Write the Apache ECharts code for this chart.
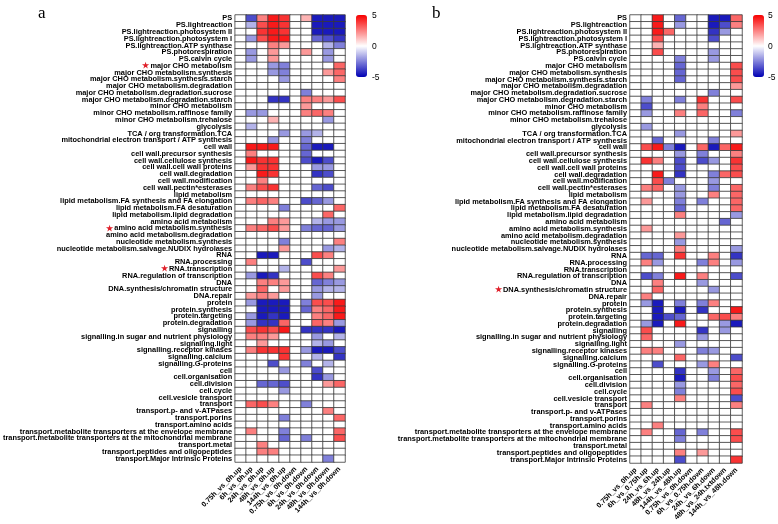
<!DOCTYPE html>
<html><head><meta charset="utf-8">
<script src="https://cdn.jsdelivr.net/npm/echarts@6/dist/echarts.min.js"></script>
<style>html,body{margin:0;padding:0;background:#fff}#c{width:778px;height:524px}</style>
</head><body><div id="c"></div>
<script>
const rowNames = ["PS","PS.lightreaction","PS.lightreaction.photosystem II","PS.lightreaction.photosystem I","PS.lightreaction.ATP synthase","PS.photorespiration","PS.calvin cycle","major CHO metabolism","major CHO metabolism.synthesis","major CHO metabolism.synthesis.starch","major CHO metabolism.degradation","major CHO metabolism.degradation.sucrose","major CHO metabolism.degradation.starch","minor CHO metabolism","minor CHO metabolism.raffinose family","minor CHO metabolism.trehalose","glycolysis","TCA / org transformation.TCA","mitochondrial electron transport / ATP synthesis","cell wall","cell wall.precursor synthesis","cell wall.cellulose synthesis","cell wall.cell wall proteins","cell wall.degradation","cell wall.modification","cell wall.pectin*esterases","lipid metabolism","lipid metabolism.FA synthesis and FA elongation","lipid metabolism.FA desaturation","lipid metabolism.lipid degradation","amino acid metabolism","amino acid metabolism.synthesis","amino acid metabolism.degradation","nucleotide metabolism.synthesis","nucleotide metabolism.salvage.NUDIX hydrolases","RNA","RNA.processing","RNA.transcription","RNA.regulation of transcription","DNA","DNA.synthesis/chromatin structure","DNA.repair","protein","protein.synthesis","protein.targeting","protein.degradation","signalling","signalling.in sugar and nutrient physiology","signalling.light","signalling.receptor kinases","signalling.calcium","signalling.G-proteins","cell","cell.organisation","cell.division","cell.cycle","cell.vesicle transport","transport","transport.p- and v-ATPases","transport.porins","transport.amino acids","transport.metabolite transporters at the envelope membrane","transport.metabolite transporters at the mitochondrial membrane","transport.metal","transport.peptides and oligopeptides","transport.Major Intrinsic Proteins"];
const starredA = ["major CHO metabolism","amino acid metabolism.synthesis","RNA.transcription"];
const starredB = ["DNA.synthesis/chromatin structure"];
const colsA = ["0.75h_vs_0h.up","6h_vs_0h.up","24h_vs_0h.up","48h_vs_0h.up","144h_vs_0h.up","0.75h_vs_0h.down","6h_vs_0h.down","24h_vs_0h.down","48h_vs_0h.down","144h_vs_0h.down"];
const colsB = ["0.75h_vs_0h.up","6h_vs_0.75h.up","24h_vs_6h.up","48h_vs_24h.up","144h_vs_48h.up","0.75h_vs_0h.down","6h_vs_0.75h.down","24h_vs_6h.down","48h_vs_24h.txtdown","144h_vs_48h.down"];
const scaleTicks = ["5","0","-5"];

const valuesA = [
[0,-3.5,2.5,4.5,4,0,1.5,-4.5,-4.5,-4.5],
[0,-1.5,3.5,4.5,4,0,0,-4.5,-4.5,-4.5],
[0,0,4,4.5,4,0,0,-4.5,-4.5,-4.5],
[0,-2,3.5,4.5,4.5,0,0,-3,-3.5,-4],
[0,0,0,2.5,2,0,0,0,-1.5,-2.5],
[0,-2,0,2,0,0,2,0,-2,0],
[0,-2,0,2,0,0,0,0,-2,0],
[0,0,0,-2,-2.5,0,0,0,0,3],
[0,0,0,-2,-2.5,0,0,0,2,3],
[0,0,0,0,-2,0,0,0,0,2.5],
[0,0,0,0,0,0,0,0,0,0],
[0,0,0,0,0,0,-2.5,0,0,0],
[0,0,0,-4,-4,0,2.5,2.5,2,3.5],
[0,0,0,0,0,0,2,0,0,0],
[0,-2,-2,0,0,0,2.5,3,2.5,0],
[0,0,0,1.5,0,0,0,0,-2,0],
[0,-1.5,0,0,0,0,0,0,0,0],
[0,0,0,0,-2,0,-2,-1.5,0,0],
[0,0,0,-2,0,0,-2.5,0,0,0],
[0,4.5,4.5,4.5,0,0,-3,-4.5,-4.5,0],
[0,2.5,0,0,0,0,-3,0,0,0],
[0,4.5,4,4,0,0,-3.5,-4.5,-3.5,0],
[0,2,4,4,0,0,0,-2,-2,0],
[0,0,4.5,4,0,0,0,-4,-3.5,0],
[0,0,2.5,0,0,0,0,0,0,0],
[0,2.5,3.5,4,0,0,0,-3,-3.5,0],
[0,0,0,0,0,0,0,0,0,0],
[0,2.5,3,2.5,0,0,-3.5,-3,-2,0],
[0,0,0,0,-2.5,0,0,0,0,3],
[0,0,0,0,0,0,0,0,3,0],
[0,0,0,2.5,2,0,0,-1.5,-2,-2],
[0,2.5,3,3.5,2,0,-2.5,-3,-3,-2],
[0,0,0,0,0,0,0,0,0,0],
[0,0,0,0,-2.5,0,0,0,0,2.5],
[0,0,0,0,2,0,0,0,-2,-1.5],
[0,0,-4.5,-4.5,0,0,0,3.5,2.5,0],
[0,2.5,0,0,0,0,-3.5,0,0,0],
[0,0,0,0,-1.5,0,0,0,0,2],
[0,-2,-4.5,-4,0,0,0,3.5,2.5,0],
[0,0,2.5,2.5,2,0,0,-3,-2.5,-2],
[0,0,3,0,2,0,0,-2,-1.5,-1.5],
[0,2,2.5,2,0,0,0,-2,0,0],
[0,-2,-4.5,-4.5,-4.5,0,-2.5,3.5,3.5,4.5],
[0,0,-4.5,-4.5,-4.5,0,-3,2.5,3,4.5],
[0,-2,-4.5,-4,-4.5,0,0,2.5,3,4.5],
[0,-2,-4,-4,3,0,0,3,2.5,-2],
[0,3.5,4,3.5,4.5,0,-4,-4,-4,-4.5],
[0,2.5,2.5,2,0,0,0,-2,0,-1.5],
[0,0,2,0,0,0,0,-1.5,-2,0],
[0,2.5,4,4,4,0,-2,-4.5,-4.5,-3.5],
[0,0,0,0,4,0,0,-1.5,0,-4],
[0,0,0,-3.5,0,0,-2.5,0,-1.5,0],
[0,0,0,0,-2,0,0,-3.5,0,0],
[0,0,0,0,0,0,0,-4,-2,0],
[0,0,-3,-3,-3.5,0,0,0,2,3],
[0,0,0,0,-2,0,0,0,0,0],
[0,0,0,0,0,0,0,0,0,0],
[0,3,3.5,2.5,0,0,-2.5,0,0,0],
[0,0,0,0,0,0,0,0,2.5,0],
[0,0,0,0,-2.5,0,0,0,0,3],
[0,0,0,0,0,0,0,0,0,0],
[0,2.5,0,0,-2.5,0,0,0,0,3],
[0,0,0,0,-3,0,-2.5,0,0,3.5],
[0,0,2.5,0,0,0,0,0,0,0],
[0,0,2.5,2.5,0,0,0,0,0,0],
[0,0,0,0,0,0,0,0,-2.5,0]
];

const valuesB = [
[0,0,4.5,0,-3,0,0,-4.5,-4.5,3],
[0,0,4.5,0,-2,0,0,-4.5,-3.5,2.5],
[0,0,4.5,3,0,0,0,-4,-2,0],
[0,0,3.5,0,0,0,0,-3.5,0,0],
[0,0,1.5,0,0,0,0,0,0,0],
[0,0,3.5,0,0,0,0,-2,0,0],
[0,0,0,0,-2.5,0,0,-2,0,0],
[0,0,0,0,-3,0,0,0,0,3.5],
[0,0,0,0,-3,0,0,0,0,3.5],
[0,0,0,0,-3,0,0,0,0,3.5],
[0,0,0,0,0,0,0,0,0,2],
[0,0,0,0,0,0,0,-2.5,0,0],
[0,-2.5,0,0,-2.5,0,4,0,0,3.5],
[0,-3.5,0,0,0,0,2.5,0,0,0],
[0,-2,0,0,2.5,0,3,0,0,-2.5],
[0,0,0,0,0,0,0,0,0,0],
[0,-2,0,0,0,0,0,0,0,0],
[0,0,0,0,-2,0,0,0,0,2],
[0,0,-3,0,0,0,0,-2.5,0,0],
[0,3.5,4.5,-2.5,-4.5,0,3,-4.5,3,4.5],
[0,0,0,0,-2,0,-2.5,0,0,2.5],
[0,4,2.5,0,-3.5,0,-3.5,-2,0,4],
[0,0,0,0,-3.5,0,0,0,0,3.5],
[0,0,4.5,0,-4,0,0,-2.5,3,3.5],
[0,0,3.5,-2.5,0,0,0,-2,0,0],
[0,2.5,3,0,-2,0,0,-2.5,0,3],
[0,0,0,0,-2,0,0,2.5,0,3],
[0,2,0,0,-2.5,0,-2.5,0,0,3],
[0,0,0,0,-3,0,0,0,0,3],
[0,0,0,0,2.5,0,0,0,0,-2],
[0,0,0,0,0,0,0,0,-3,0],
[0,2,0,0,0,0,0,0,0,0],
[0,0,0,0,2,0,0,0,0,0],
[0,0,0,0,-2,0,0,0,0,0],
[0,0,0,0,2.5,0,0,0,0,-2],
[0,-3,-3,0,4,0,0,2.5,0,-4],
[0,2.5,-2,0,0,0,-2.5,2.5,0,-2],
[0,0,0,0,0,0,0,0,0,0],
[0,-3.5,-2.5,0,4.5,0,2.5,0,0,-3.5],
[0,0,2.5,0,0,0,-2,0,0,0],
[0,0,3,0,0,0,0,-2,0,0],
[0,2.5,0,0,0,0,0,0,0,0],
[0,-2,-4.5,0,-2.5,0,-2.5,2.5,0,0],
[0,0,-4.5,0,-4.5,0,-4,0,0,4.5],
[0,0,-4.5,-3.5,-3,0,0,3,3.5,2.5],
[0,-2,-4.5,0,4.5,0,0,0,-2,-4.5],
[0,3.5,0,0,0,0,-4,0,-2,0],
[0,3,0,0,0,0,-2,0,0,0],
[0,0,0,0,-2,0,0,0,0,0],
[0,2.5,2.5,0,0,0,-2.5,-2,0,0],
[0,0,0,0,3,0,0,0,0,-3.5],
[0,0,-3.5,0,0,0,-2,2.5,0,0],
[0,0,0,0,-4,0,0,-2,0,3],
[0,0,0,0,-4.5,0,0,-2.5,0,3.5],
[0,0,0,0,-2,0,0,0,0,3],
[0,0,0,0,-2.5,0,0,0,0,3.5],
[0,0,0,0,2.5,0,0,0,0,-3.5],
[0,2.5,0,0,0,0,0,0,0,2.5],
[0,0,0,0,0,0,0,0,0,0],
[0,0,0,0,0,0,0,0,0,0],
[0,0,2.5,0,0,0,0,0,0,0],
[0,2.5,0,0,-3,0,-2.5,0,0,3.5],
[0,0,0,0,-2.5,0,0,0,0,3.5],
[0,0,0,0,0,0,0,0,0,0],
[0,0,0,0,2.5,0,2,0,0,0],
[0,0,0,0,-3.5,0,0,0,0,4]
];

function toCells(vals){
  const out=[];
  vals.forEach((row,r)=>row.forEach((v,c)=>out.push([c,r,v])));
  return out;
}
const FONT = 'Liberation Sans, Arial, sans-serif';
function yAxis(gi, starred){
  return {type:'category', gridIndex:gi, data:rowNames, inverse:true,
    axisLine:{show:false}, axisTick:{show:false}, splitLine:{show:false},
    axisLabel:{interval:0, margin:3, fontSize:7.4, fontWeight:'bold', color:'#000', fontFamily:FONT,
      formatter:(n)=> starred.includes(n) ? '{s|★}'+n : n,
      rich:{s:{color:'#e0202a', fontSize:8, padding:[0,1,0,0]}}}};
}
function xAxis(gi, cols){
  return {type:'category', gridIndex:gi, data:cols, position:'bottom',
    axisLine:{show:false}, axisTick:{show:false}, splitLine:{show:false},
    axisLabel:{interval:0, rotate:45, margin:6, fontSize:7.2, fontWeight:'bold', color:'#000', fontFamily:FONT}};
}
const colors = ['#0000b4','#ffffff','#f80000'];
const chart = echarts.init(document.getElementById('c'), null, {renderer:'canvas'});
chart.setOption({
  animation:false,
  backgroundColor:'#fff',
  title:[
    {text:'a', left:33, top:0, textStyle:{fontFamily:'Liberation Serif, DejaVu Serif, serif', fontWeight:'normal', fontSize:17, color:'#000'}},
    {text:'b', left:427, top:0, textStyle:{fontFamily:'Liberation Serif, DejaVu Serif, serif', fontWeight:'normal', fontSize:17, color:'#000'}}
  ],
  grid:[
    {left:232, top:15, width:113, height:447},
    {left:630, top:15, width:112, height:448}
  ],
  xAxis:[xAxis(0,colsA), xAxis(1,colsB)],
  yAxis:[yAxis(0,starredA), yAxis(1,starredB)],
  visualMap:[
    {type:'continuous', seriesIndex:0, min:-5, max:5, calculable:false, hoverLink:false, padding:0,
     left:356, top:15, itemWidth:11, itemHeight:62, inRange:{color:colors}, text:null, showLabel:false},
    {type:'continuous', seriesIndex:1, min:-5, max:5, calculable:false, hoverLink:false, padding:0,
     left:753, top:15, itemWidth:11, itemHeight:62, inRange:{color:colors}, text:null, showLabel:false}
  ],
  graphic:[
    ...scaleTicks.map((t,i)=>({type:'text', left:372, top:11+i*31, style:{text:t, fontSize:8.5, fill:'#000', fontFamily:FONT}})),
    ...scaleTicks.map((t,i)=>({type:'text', left:768, top:11+i*31, style:{text:t, fontSize:8.5, fill:'#000', fontFamily:FONT}}))
  ],
  series:[
    {type:'heatmap', xAxisIndex:0, yAxisIndex:0, data:toCells(valuesA),
     itemStyle:{borderColor:'#3a3a3a', borderWidth:0.8}, emphasis:{disabled:true}},
    {type:'heatmap', xAxisIndex:1, yAxisIndex:1, data:toCells(valuesB),
     itemStyle:{borderColor:'#3a3a3a', borderWidth:0.8}, emphasis:{disabled:true}}
  ]
});
</script></body></html>
